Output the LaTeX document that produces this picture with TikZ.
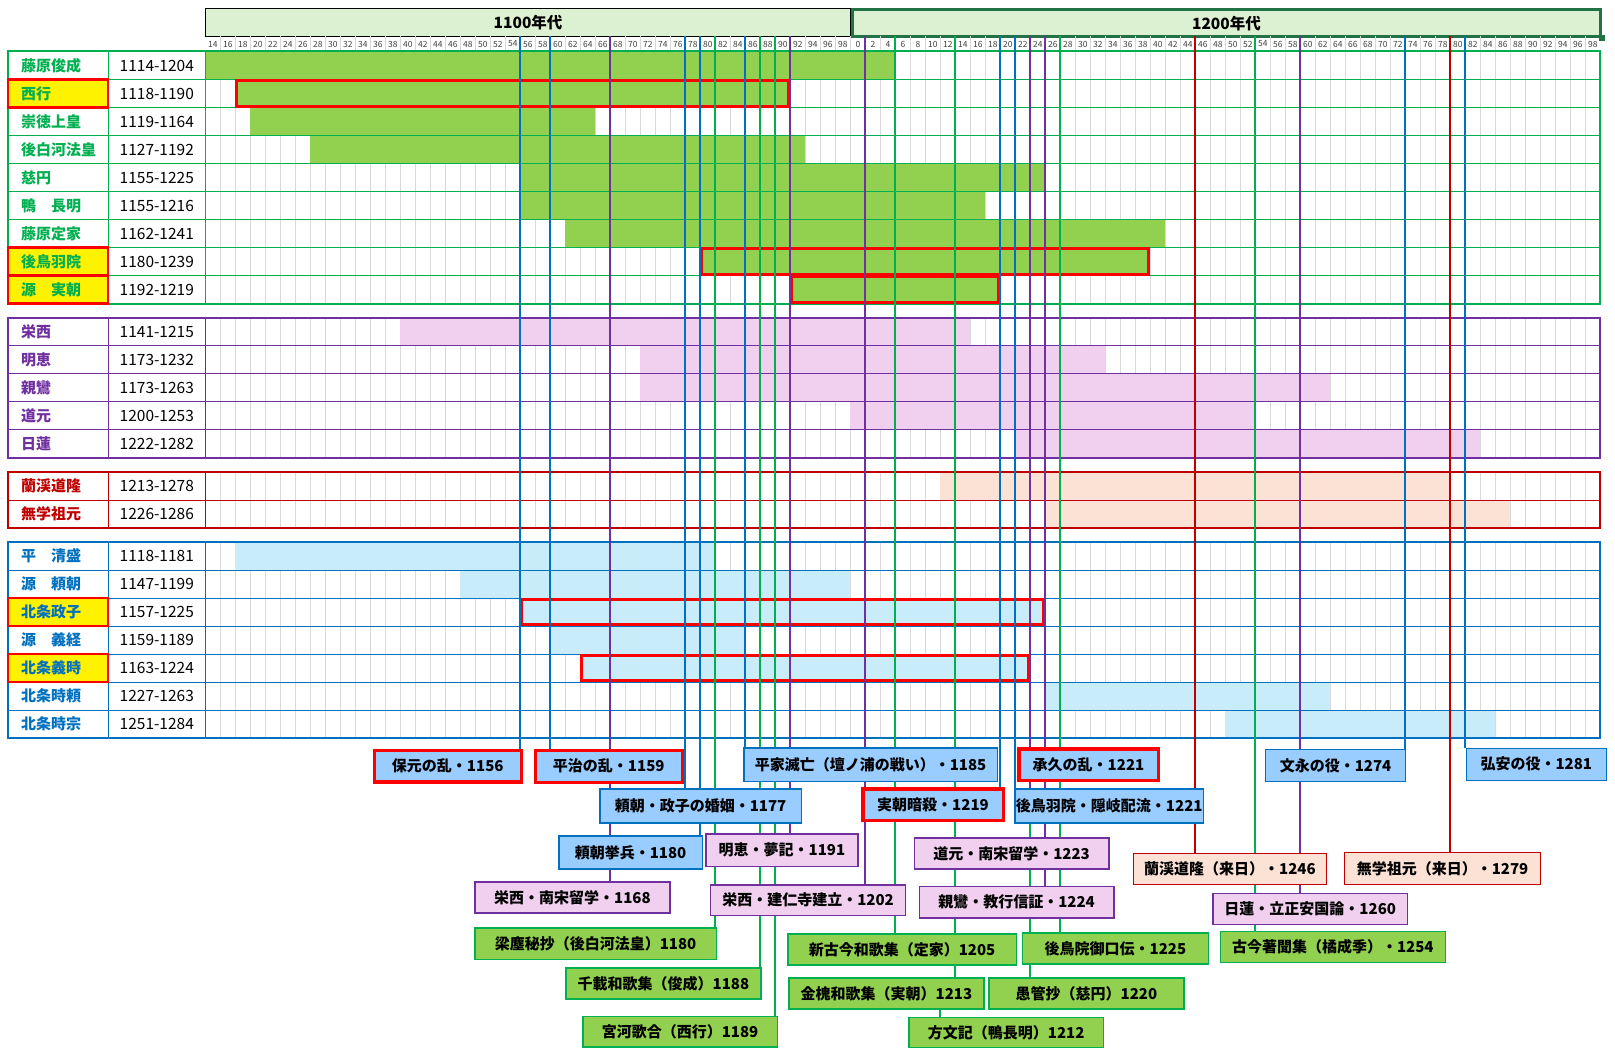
\documentclass[tikz,border=0pt]{standalone}
\usepackage{fontspec}
\setmainfont{Noto Sans CJK JP}
\pgfdeclarelayer{front}
\pgfsetlayers{main,front}

\definecolor{grn}{HTML}{00B050}
\definecolor{grnbar}{HTML}{92D050}
\definecolor{pur}{HTML}{7030A0}
\definecolor{purbar}{HTML}{F0D0EE}
\definecolor{rd}{HTML}{C00000}
\definecolor{rdbar}{HTML}{FBE2D5}
\definecolor{blu}{HTML}{0070C0}
\definecolor{blubar}{HTML}{C9ECFA}
\definecolor{evblu}{HTML}{99CCFF}
\definecolor{hlred}{HTML}{FF0000}
\definecolor{hdrfill}{HTML}{DCF1D2}
\definecolor{hdrline}{HTML}{217346}
\definecolor{gridgray}{HTML}{D9D9D9}
\definecolor{tickgray}{HTML}{404040}

\newcommand{\namefont}{\fontsize{15}{15}\selectfont\bfseries}
\newcommand{\yearfont}{\fontsize{15.5}{16}\selectfont}
\newcommand{\evfont}{\fontsize{15}{15}\selectfont\bfseries}
\newcommand{\hdrfont}{\fontsize{15.5}{16}\selectfont\bfseries}
\newcommand{\tickfnt}{\fontsize{8.5}{9}\selectfont}

% light grid of one group, #1 rows
\newcommand{\tabgrid}[1]{%
  \foreach \c in {1,...,92} \draw[gridln] ({205.4+15*\c},0) -- ({205.4+15*\c},#1);}
% rules and frame of one group, #1 rows, #2 colour
\newcommand{\tabframe}[2]{%
  \pgfmathtruncatemacro\lastrow{#1-1}
  \foreach \r in {1,...,\lastrow} \draw[#2,line width=1] (8,\r) -- (1600.4,\r);
  \draw[#2,line width=1] (108,0) -- (108,#1) (205.4,0) -- (205.4,#1);
  \draw[#2,line width=2] (8,0) rectangle (1600.4,#1);}

\begin{document}
\begin{tikzpicture}[x=1pt,y=-1pt,
  gridln/.style={gridgray,line width=0.8},
  nm/.style={anchor=west,font=\namefont,inner sep=0pt},
  yr/.style={font=\yearfont,inner sep=0pt},
  tick/.style={font=\tickfnt,text=tickgray,inner sep=0pt},
  hdr/.style={fill=hdrfill,font=\hdrfont,anchor=north west,inner sep=0pt},
  hlname/.style={fill=yellow,draw=hlred,line width=2.5},
  hlbar/.style={draw=hlred,line width=3},
  evline/.style={line width=2},
  ev/.style={draw,line width=1.2,inner sep=0pt,anchor=north west,font=\evfont,text=black},
  sz/.style 2 args={minimum width=#1pt,minimum height=#2pt},
  evblue/.style={ev,draw=blu,fill=evblu},
  evkey/.style={ev,draw=hlred,line width=3.5,fill=evblu},
  evpink/.style={ev,draw=pur,fill=purbar},
  evgreen/.style={ev,draw=grn,fill=grnbar},
  evpeach/.style={ev,draw=rd,fill=rdbar}]
\useasboundingbox (0,0) rectangle (1615,1057);

% header
\node[hdr,draw=black,line width=0.8,sz={644.6}{28}] (h1100) at (205.4,8) {1100年代};
\node[hdr,draw=hdrline,line width=2.5,sz={748}{27}] (h1200) at (851.2,8.5) {1200年代};
\fill[hdrline] (h1200.south east) +(-3,-3) rectangle +(3,3);
\foreach \c in {1,...,92} \draw[gridln] ({205.4+15*\c},36) -- ({205.4+15*\c},51.5);
\foreach \c in {0,...,92} {
  \pgfmathtruncatemacro\lab{\c<43 ? 14+2*\c : 2*(\c-43)}
  \node[tick] (tk\c) at ({212.9+15*\c},44) {\lab};
}

% poets
\begin{scope}[yshift=-51.5pt,y=-28pt]
  \tabgrid{9}
  \foreach \r/\a/\b in {0/0/46,1/2/39,2/3/26,3/7/40,4/21/56,5/21/52,6/24/64,7/33/63,8/39/53}
    \fill[grnbar] ({205.4+15*\a},\r) rectangle ({205.4+15*\b},\r+1);
  \tabframe{9}{grn}
  \foreach \r in {1,7,8} \draw[hlname] (8,\r) rectangle (108,\r+1);
  \foreach \r/\a/\b in {1/2/39,7/33/63,8/39/53}
    \draw[hlbar] ({206.9+15*\a},\r+.05) rectangle ({203.9+15*\b},\r+.95);
  \foreach \r/\n/\y/\id in {0/藤原俊成/1114-1204/shunzei,1/西行/1118-1190/saigyo,
      2/崇徳上皇/1119-1164/sutoku,3/後白河法皇/1127-1192/goshirakawa,4/慈円/1155-1225/jien,
      5/鴨　長明/1155-1216/chomei,6/藤原定家/1162-1241/teika,7/後鳥羽院/1180-1239/gotoba,
      8/源　実朝/1192-1219/sanetomo} {
    \node[nm,text=grn] (\id) at (21,\r+.5) {\n};
    \node[yr] (\id-yr) at (156.8,\r+.5) {\y};
  }
\end{scope}

% monks
\begin{scope}[yshift=-317.5pt,y=-28pt]
  \tabgrid{5}
  \foreach \r/\a/\b in {0/13/51,1/29/60,2/29/75,3/43/70,4/54/85}
    \fill[purbar] ({205.4+15*\a},\r) rectangle ({205.4+15*\b},\r+1);
  \tabframe{5}{pur}
  \foreach \r/\n/\y/\id in {0/栄西/1141-1215/eisai,1/明恵/1173-1232/myoe,
      2/親鸞/1173-1263/shinranp,3/道元/1200-1253/dogenp,4/日蓮/1222-1282/nichirenp} {
    \node[nm,text=pur] (\id) at (21,\r+.5) {\n};
    \node[yr] (\id-yr) at (156.8,\r+.5) {\y};
  }
\end{scope}

% zen masters from Song
\begin{scope}[yshift=-472pt,y=-28pt]
  \tabgrid{2}
  \foreach \r/\a/\b in {0/49/83,1/56/87}
    \fill[rdbar] ({205.4+15*\a},\r) rectangle ({205.4+15*\b},\r+1);
  \tabframe{2}{rd}
  \foreach \r/\n/\y/\id in {0/蘭渓道隆/1213-1278/rankeip,1/無学祖元/1226-1286/mugakup} {
    \node[nm,text=rd] (\id) at (21,\r+.5) {\n};
    \node[yr] (\id-yr) at (156.8,\r+.5) {\y};
  }
\end{scope}

% warriors
\begin{scope}[yshift=-542pt,y=-28pt]
  \tabgrid{7}
  \foreach \r/\a/\b in {0/2/34,1/17/43,2/21/56,3/23/36,4/25/55,5/56/75,6/68/86}
    \fill[blubar] ({205.4+15*\a},\r) rectangle ({205.4+15*\b},\r+1);
  \tabframe{7}{blu}
  \foreach \r in {2,4} \draw[hlname] (8,\r) rectangle (108,\r+1);
  \foreach \r/\a/\b in {2/21/56,4/25/55}
    \draw[hlbar] ({206.9+15*\a},\r+.05) rectangle ({203.9+15*\b},\r+.95);
  \foreach \r/\n/\y/\id in {0/平　清盛/1118-1181/kiyomori,1/源　頼朝/1147-1199/yoritomo,
      2/北条政子/1157-1225/masako,3/源　義経/1159-1189/yoshitsune,4/北条義時/1163-1224/yoshitoki,
      5/北条時頼/1227-1263/tokiyori,6/北条時宗/1251-1284/tokimune} {
    \node[nm,text=blu] (\id) at (21,\r+.5) {\n};
    \node[yr] (\id-yr) at (156.8,\r+.5) {\y};
  }
\end{scope}

% events
\begin{pgfonlayer}{front}
\node[evkey,sz={147}{31.5}] (hogen) at (372.5,748.5) {保元の乱・1156};
\node[evkey,sz={147}{32}] (heiji) at (533.5,748.5) {平治の乱・1159};
\node[evblue,sz={253.4}{33.4}] (dannoura) at (743.3,747.3) {平家滅亡（壇ノ浦の戦い）・1185};
\node[evblue,sz={201.4}{34}] (kon) at (599.3,788.3) {頼朝・政子の婚姻・1177};
\node[evblue,sz={143.4}{33}] (kyohei) at (558.3,835.3) {頼朝挙兵・1180};
\node[evpink,sz={152}{32.4}] (yume) at (705.3,833.3) {明恵・夢記・1191};
\node[evpink,sz={195}{31}] (ryugaku) at (474.3,881.3) {栄西・南宋留学・1168};
\node[evpink,sz={195}{30.7}] (kennin) at (710,884.3) {栄西・建仁寺建立・1202};
\node[evgreen,sz={241.4}{31.4}] (ryojin) at (474.3,927.3) {梁塵秘抄（後白河法皇）1180};
\node[evgreen,sz={195}{31}] (senzai) at (565.3,967.3) {千載和歌集（俊成）1188};
\node[evgreen,sz={194.4}{30.6}] (miyagawa) at (582.3,1015.7) {宮河歌合（西行）1189};
\node[evkey,sz={140.5}{31.5}] (ansatsu) at (861,787) {実朝暗殺・1219};
\node[evkey,sz={139.5}{31.5}] (jokyu) at (1017,747) {承久の乱・1221};
\node[evblue,sz={188.7}{34}] (oki) at (1014.3,788.3) {後鳥羽院・隠岐配流・1221};
\node[evpink,sz={194.7}{31}] (dogen) at (913.6,837.3) {道元・南宋留学・1223};
\node[evpink,sz={194.6}{31.3}] (shinran) at (918.7,886) {親鸞・教行信証・1224};
\node[evgreen,sz={228.4}{31}] (shinkokin) at (787.3,933.3) {新古今和歌集（定家）1205};
\node[evgreen,sz={186.3}{31}] (kuden) at (1021.7,932.3) {後鳥院御口伝・1225};
\node[evgreen,sz={195}{31}] (kinkai) at (788.3,977.3) {金槐和歌集（実朝）1213};
\node[evgreen,sz={195}{31}] (gukan) at (988.3,977.3) {愚管抄（慈円）1220};
\node[evgreen,sz={194.3}{30}] (hojoki) at (908.4,1016.7) {方文記（鴨長明）1212};
\node[evblue,sz={140}{32}] (bunei) at (1265,749) {文永の役・1274};
\node[evblue,sz={140}{32}] (koan) at (1465.7,747.7) {弘安の役・1281};
\node[evpeach,sz={192.6}{30.7}] (rankei) at (1133,853) {蘭渓道隆（来日）・1246};
\node[evpeach,sz={196}{31.7}] (mugaku) at (1344,852) {無学祖元（来日）・1279};
\node[evpink,sz={194.7}{31}] (nichiren) at (1212.3,893) {日蓮・立正安国論・1260};
\node[evgreen,sz={225.5}{31}] (chomonju) at (1219.5,931) {古今著聞集（橘成季）・1254};
\end{pgfonlayer}

\foreach \c in {21,23,27,32,33,34,36,37,38,39,44,46,49,50,53,54,55,56,57,66,70,73,80,83,84}
  \coordinate (t\c) at ({205.4+15*\c},36.5);
\foreach \c/\b in {21/hogen,23/heiji,32/kon,33/kyohei,36/dannoura,53/ansatsu,54/oki,80/bunei,84/koan}
  \draw[evline,blu] (t\c) -- (t\c |- \b.north);
\foreach \c/\b in {27/ryugaku,39/yume,44/kennin,55/oki,56/shinran,73/nichiren}
  \draw[evline,pur] (t\c) -- (t\c |- \b.north);
\foreach \c/\b in {34/ryojin,37/senzai,38/miyagawa,46/shinkokin,50/kinkai,57/kuden,70/chomonju}
  \draw[evline,grn] (t\c) -- (t\c |- \b.north);
\foreach \c/\b in {66/rankei,83/mugaku}
  \draw[evline,rd] (t\c) -- (t\c |- \b.north);
\draw[evline,grn] (t55 |- oki.south) -- (t55 |- gukan.north);
\draw[evline,grn] (t49 |- kinkai.south) -- (t49 |- hojoki.north);
\end{tikzpicture}
\end{document}
